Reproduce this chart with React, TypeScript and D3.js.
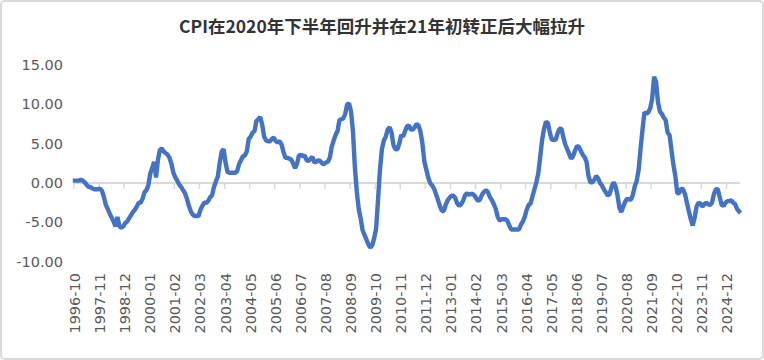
import React from "react";
import * as d3 from "d3";

const title = "CPI在2020年下半年回升并在21年初转正后大幅拉升";
const startYear = 1996;
const startMonth = 10;

// monthly y/y values, 1996-10 .. 2025-06
const v1996 = [0.3, 0.3, 0.3];
const v1997 = [0.4, 0.3, 0.1, -0.2, -0.5, -0.5, -0.7, -0.8, -0.8, -0.8, -0.7, -1.0];
const v1998 = [-1.8, -2.8, -3.3, -3.9, -4.4, -4.9, -5.5, -4.3, -5.5, -5.7, -5.5, -5.1];
const v1999 = [-4.9, -4.5, -4.1, -3.7, -3.4, -3.0, -2.5, -2.5, -2.0, -1.2, -0.9, -0.3];
const v2000 = [1.2, 1.9, 2.7, 0.7, 3.0, 4.2, 4.4, 4.0, 3.8, 3.6, 3.2, 2.4];
const v2001 = [1.3, 0.7, 0.3, -0.2, -0.5, -0.9, -1.3, -2.0, -2.9, -3.6, -4.0, -4.2];
const v2002 = [-4.2, -4.2, -3.4, -2.9, -2.5, -2.5, -2.3, -1.8, -1.6, -0.5, 0.2, 0.8];
const v2003 = [2.6, 4.0, 4.3, 2.6, 1.4, 1.3, 1.3, 1.3, 1.3, 1.5, 2.4, 2.9];
const v2004 = [3.4, 3.5, 4.0, 5.6, 5.9, 6.4, 6.6, 7.9, 8.1, 8.4, 7.4, 5.9];
const v2005 = [5.4, 5.3, 5.3, 5.6, 5.8, 5.3, 5.2, 5.3, 4.9, 4.0, 3.2, 3.2];
const v2006 = [3.1, 3.0, 2.5, 1.9, 2.4, 3.5, 3.6, 3.4, 3.5, 2.9, 2.8, 3.1];
const v2007 = [3.3, 2.6, 2.7, 2.9, 2.8, 2.5, 2.4, 2.6, 2.7, 3.2, 4.6, 5.4];
const v2008 = [6.1, 6.6, 8.0, 8.1, 8.2, 8.8, 10.0, 10.1, 9.1, 6.6, 2.0, -1.1];
const v2009 = [-3.3, -4.5, -6.0, -6.6, -7.2, -7.8, -8.2, -7.9, -7.0, -5.8, -2.1, 1.7];
const v2010 = [4.3, 5.4, 5.9, 6.8, 7.1, 6.4, 4.8, 4.3, 4.3, 5.0, 6.1, 5.9];
const v2011 = [6.6, 7.2, 7.3, 6.8, 6.8, 7.1, 7.5, 7.3, 6.5, 5.0, 2.7, 1.7];
const v2012 = [0.7, 0.0, -0.3, -0.7, -1.4, -2.1, -2.9, -3.5, -3.6, -2.8, -2.2, -1.9];
const v2013 = [-1.6, -1.6, -1.9, -2.6, -2.9, -2.7, -2.3, -1.6, -1.3, -1.5, -1.4, -1.4];
const v2014 = [-1.6, -2.0, -2.3, -2.0, -1.4, -1.1, -0.9, -1.2, -1.8, -2.2, -2.7, -3.3];
const v2015 = [-4.3, -4.8, -4.6, -4.6, -4.6, -4.8, -5.4, -5.9, -5.9, -5.9, -5.9, -5.9];
const v2016 = [-5.3, -4.9, -4.3, -3.4, -2.8, -2.6, -1.7, -0.8, 0.1, 1.2, 3.3, 5.5];
const v2017 = [6.9, 7.8, 7.6, 6.4, 5.5, 5.5, 5.5, 6.3, 6.9, 6.9, 5.8, 4.9];
const v2018 = [4.3, 3.7, 3.1, 3.4, 4.1, 4.7, 4.6, 4.1, 3.6, 3.3, 2.7, 0.9];
const v2019 = [0.1, 0.1, 0.4, 0.9, 0.6, 0.0, -0.3, -0.8, -1.2, -1.6, -1.4, -0.5];
const v2020 = [0.1, -0.4, -1.5, -3.1, -3.7, -3.0, -2.4, -2.0, -2.1, -2.1, -1.5, -0.4];
const v2021 = [0.3, 1.7, 4.4, 6.8, 9.0, 8.8, 9.0, 9.5, 10.7, 13.5, 12.9, 10.3];
const v2022 = [9.1, 8.8, 8.3, 8.0, 6.4, 6.1, 4.2, 2.3, 0.9, -1.3, -1.3, -0.7];
const v2023 = [-0.8, -1.4, -2.5, -3.6, -4.6, -5.4, -4.4, -3.0, -2.5, -2.6, -3.0, -2.7];
const v2024 = [-2.5, -2.7, -2.8, -2.5, -1.4, -0.8, -0.8, -1.8, -2.8, -2.9, -2.5, -2.3];
const v2025 = [-2.3, -2.2, -2.5, -2.7, -3.3, -3.6];

const values: number[] = [
  ...v1996, ...v1997, ...v1998, ...v1999, ...v2000, ...v2001, ...v2002, ...v2003,
  ...v2004, ...v2005, ...v2006, ...v2007, ...v2008, ...v2009, ...v2010, ...v2011,
  ...v2012, ...v2013, ...v2014, ...v2015, ...v2016, ...v2017, ...v2018, ...v2019,
  ...v2020, ...v2021, ...v2022, ...v2023, ...v2024, ...v2025,
];

const tickLabels = [
  "1996-10", "1997-11", "1998-12", "2000-01", "2001-02", "2002-03", "2003-04",
  "2004-05", "2005-06", "2006-07", "2007-08", "2008-09", "2009-10", "2010-11",
  "2011-12", "2013-01", "2014-02", "2015-03", "2016-04", "2017-05", "2018-06",
  "2019-07", "2020-08", "2021-09", "2022-10", "2023-11", "2024-12",
];

const yTicks = [15, 10, 5, 0, -5, -10];

const labelIndex = (s: string) => {
  const [yy, mm] = s.split("-").map(Number);
  return (yy - startYear) * 12 + (mm - startMonth);
};

export default function App() {
  const W = 764;
  const H = 360;
  const n = values.length;
  const x = d3
    .scaleBand<number>()
    .domain(d3.range(n))
    .range([74, 740])
    .paddingInner(0)
    .paddingOuter(0);
  const y = d3.scaleLinear().domain([-10, 15]).range([261.7, 65]);
  const cx = (i: number) => (x(i) as number) + x.bandwidth() / 2;
  const line = d3
    .line<number>()
    .x((_, i) => cx(i))
    .y((d) => y(d));
  const y0 = y(0);
  const step = x.step();
  const tickPos = tickLabels.map((l) => 74 + labelIndex(l) * step);

  const axisFont = "'DejaVu Sans', 'Liberation Sans', Arial, sans-serif";

  return (
    <svg
      width={W}
      height={H}
      style={{ position: "absolute", left: 0, top: 0, display: "block" }}
    >
      <rect x={1} y={1} width={W - 2} height={H - 2} rx={4} fill="#ffffff" stroke="#d9d9d9" strokeWidth={2} />
      <text
        x={W / 2}
        y={25}
        textAnchor="middle"
        dominantBaseline="central"
        fontFamily="'Noto Sans CJK SC', 'Noto Sans', sans-serif"
        fontSize={17.5}
        fontWeight={600}
        fill="#333333"
      >
        {title}
      </text>
      {yTicks.map((t) => (
        <text
          key={t}
          x={63}
          y={y(t)}
          textAnchor="end"
          dominantBaseline="central"
          fontFamily={axisFont}
          fontSize={14.5}
          fill="#595959"
        >
          {t.toFixed(2)}
        </text>
      ))}
      <line x1={74} x2={740} y1={y0} y2={y0} stroke="#d9d9d9" strokeWidth={2} />
      {tickPos.map((tx, i) => (
        <line key={i} x1={tx} x2={tx} y1={y0} y2={y0 + 6} stroke="#d9d9d9" strokeWidth={1.5} />
      ))}
      <path
        d={line(values) || ""}
        fill="none"
        stroke="#4472C4"
        strokeWidth={4.4}
        strokeLinejoin="bevel"
        strokeLinecap="square"
      />
      {tickLabels.map((l) => {
        const lx = cx(labelIndex(l));
        return (
          <text
            key={l}
            transform={`translate(${lx},273) rotate(-90)`}
            textAnchor="end"
            dominantBaseline="central"
            fontFamily={axisFont}
            fontSize={14.5}
            fill="#595959"
          >
            {l}
          </text>
        );
      })}
    </svg>
  );
}
